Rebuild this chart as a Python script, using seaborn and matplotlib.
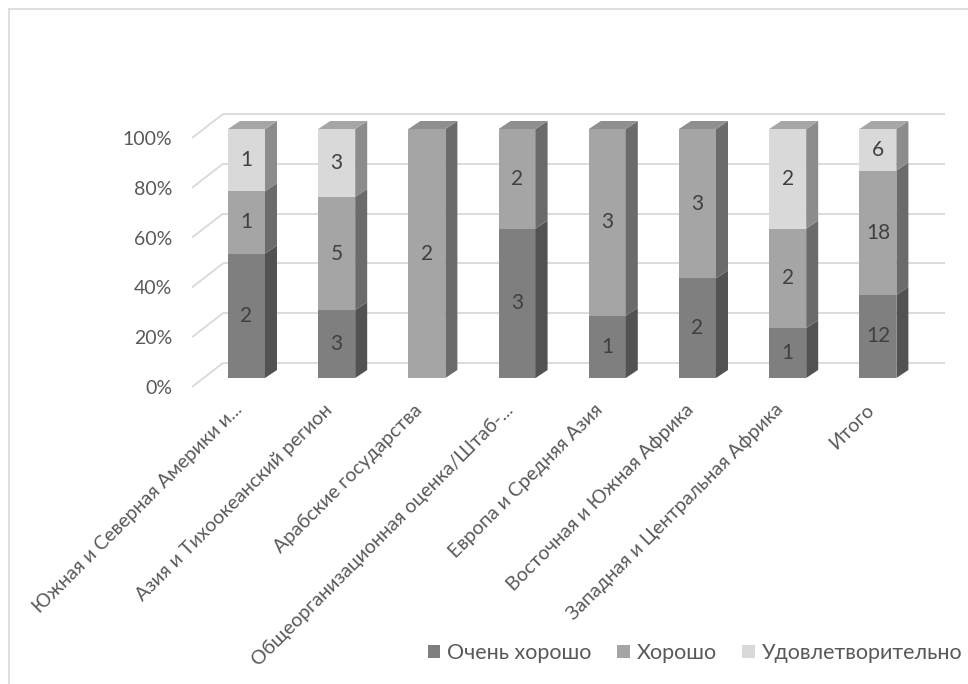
import numpy as np
import pandas as pd
import matplotlib
matplotlib.use("Agg")
import matplotlib.pyplot as plt
import matplotlib.transforms as mtransforms
from matplotlib.patches import Polygon
from matplotlib.lines import Line2D
import seaborn as sns

# ---------------- data ----------------
categories = [
    "Южная и Северная Америки и...",
    "Азия и Тихоокеанский регион",
    "Арабские государства",
    "Общеорганизационная оценка/Штаб-...",
    "Европа и Средняя Азия",
    "Восточная и Южная Африка",
    "Западная и Центральная Африка",
    "Итого",
]
series_names = ["Очень хорошо", "Хорошо", "Удовлетворительно"]
very_good = [2, 3, 0, 3, 1, 2, 1, 12]
good = [1, 5, 2, 2, 3, 3, 2, 18]
satisfactory = [1, 3, 0, 0, 0, 0, 2, 6]
y_ticks = [0, 0.2, 0.4, 0.6, 0.8, 1.0]
y_tick_labels = ["0%", "20%", "40%", "60%", "80%", "100%"]

# ---------------- style ----------------
sns.set_theme(style="white")
plt.rcParams["font.family"] = ["Lato", "DejaVu Sans"]
TXT = "#595959"
front_colors = ["#7f7f7f", "#a5a5a5", "#d9d9d9"]
side_colors = ["#525252", "#6b6b6b", "#8c8c8c"]
top_colors = ["#666666", "#8f8f8f", "#a6a6a6"]
GRID = "#d9d9d9"
FS = 14

W, H = 968, 684
fig = plt.figure(figsize=(W / 100, H / 100), dpi=100)
ax = fig.add_axes([201.4 / W, (H - 378) / H, 721.6 / W, 249 / H])

series = [very_good, good, satisfactory]
totals = np.sum(np.array(series, dtype=float), axis=0)
bottom = np.zeros(len(categories))
for name, vals, col in zip(series_names, series, front_colors):
    props = np.array(vals, dtype=float) / totals
    df = pd.DataFrame({"Регион": categories, "Доля": props})
    sns.barplot(data=df, x="Регион", y="Доля", order=categories, bottom=bottom,
                color=col, saturation=1, width=0.41, errorbar=None, ax=ax,
                label=name, linewidth=0, zorder=3)
    bottom = bottom + props

ax.set_xlim(-0.5, len(categories) - 0.5)
ax.set_ylim(0, 1)
ax.set_frame_on(False)
ax.set_xlabel("")
ax.set_ylabel("")

# pixel -> data conversion
p0 = ax.transData.transform((0, 0))
p1 = ax.transData.transform((1, 1))
ux = p1[0] - p0[0]
uy = p1[1] - p0[1]
bdx, bdy = 12 / ux, 8 / uy  # bar depth

# back wall grid + left wall diagonals
wdx, wdy = 21.6 / ux, 15 / uy
fdx, fdy = -9.4 / ux, -9 / uy
x_left = -0.5
x_right = len(categories) - 0.5
for v in y_ticks:
    ax.plot([x_left + wdx, x_right + wdx], [v + wdy, v + wdy], color=GRID,
            lw=1.3, zorder=0, clip_on=False, solid_capstyle="butt")
    ax.plot([x_left + fdx, x_left + wdx], [v + fdy, v + wdy], color=GRID,
            lw=1.3, zorder=0, clip_on=False, solid_capstyle="butt")

# 3D faces from library-drawn bars
containers = list(ax.containers)
top_idx = {}
for si, cont in enumerate(containers):
    for ci, rect in enumerate(cont.patches):
        if rect.get_height() > 0:
            top_idx[ci] = si
for si, cont in enumerate(containers):
    for ci, rect in enumerate(cont.patches):
        h = rect.get_height()
        if h <= 0:
            continue
        x0 = rect.get_x()
        x1 = x0 + rect.get_width()
        y0 = rect.get_y()
        y1 = y0 + h
        side = Polygon([(x1, y0), (x1 + bdx, y0 + bdy), (x1 + bdx, y1 + bdy), (x1, y1)],
                       closed=True, facecolor=side_colors[si], edgecolor="none",
                       zorder=3, clip_on=False)
        ax.add_patch(side)
        if top_idx.get(ci) == si:
            top = Polygon([(x0, y1), (x1, y1), (x1 + bdx, y1 + bdy), (x0 + bdx, y1 + bdy)],
                          closed=True, facecolor=top_colors[si], edgecolor="none",
                          zorder=3, clip_on=False)
            ax.add_patch(top)
        rect.set_clip_on(False)

# data labels
for cont, vals in zip(containers, series):
    labels = [str(v) if v > 0 else "" for v in vals]
    ax.bar_label(cont, labels=labels, label_type="center", color="#404040",
                 fontsize=15, zorder=5)

# y tick labels
ax.set_yticks(y_ticks)
ax.set_yticklabels(y_tick_labels, fontsize=FS, color=TXT)
ax.tick_params(axis="y", length=0, pad=29.4 * 72 / 100)
shift_y = mtransforms.ScaledTranslation(0, -9 / 100, fig.dpi_scale_trans)
for lbl in ax.get_yticklabels():
    lbl.set_transform(lbl.get_transform() + shift_y)

# x tick labels
ax.set_xticks(range(len(categories)))
ax.set_xticklabels(categories, rotation=45, ha="right", va="center",
                   rotation_mode="anchor", fontsize=FS, color=TXT)
ax.tick_params(axis="x", length=0, pad=29 * 72 / 100)
shift_x = mtransforms.ScaledTranslation(-7 / 100, 0, fig.dpi_scale_trans)
for lbl in ax.get_xticklabels():
    lbl.set_transform(lbl.get_transform() + shift_x)

# legend
leg = ax.legend(loc="center", bbox_to_anchor=(695 / W, 1 - 653 / H),
                bbox_transform=fig.transFigure, ncol=3, frameon=False,
                handlelength=0.6, handleheight=0.6, handletextpad=0.3,
                columnspacing=1.2, fontsize=15.5, labelcolor=TXT)

# chart frame (top and left visible)
fig.add_artist(Line2D([8.5 / W, 8.5 / W], [0, 1 - 8.5 / H], color=GRID, lw=1.2,
                      transform=fig.transFigure))
fig.add_artist(Line2D([8.5 / W, 1], [1 - 8.5 / H, 1 - 8.5 / H], color=GRID, lw=1.2,
                      transform=fig.transFigure))

fig.savefig("out.png", dpi=100, facecolor="white")
